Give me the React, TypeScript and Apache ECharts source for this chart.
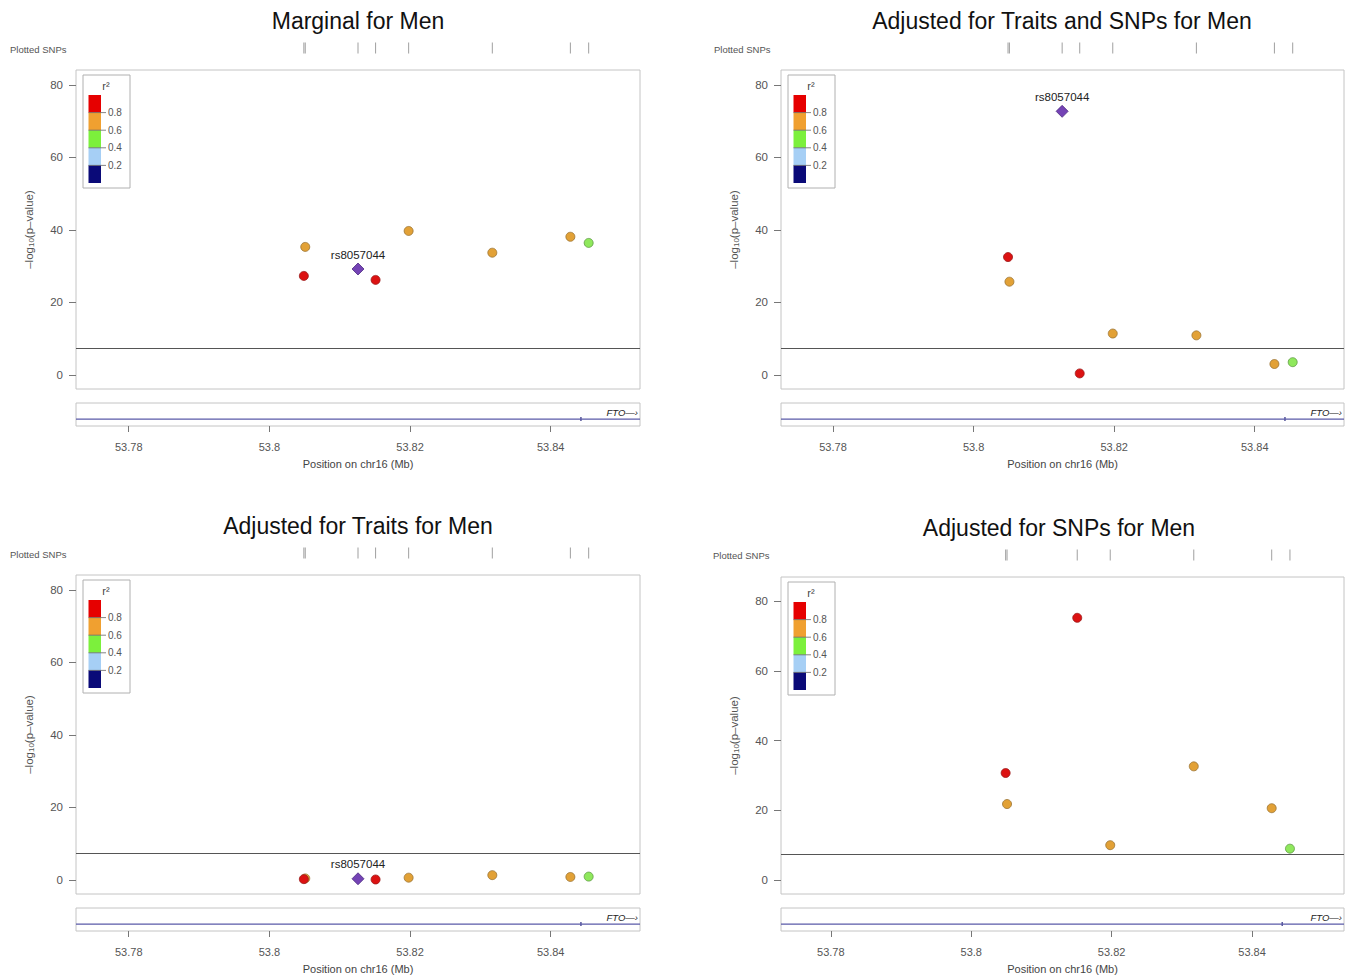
import React, { useEffect, useRef } from "react";
import * as echarts from "echarts";

// ---------- data ----------
const snpPositions = [53.8049, 53.8051, 53.8126, 53.8151, 53.8198, 53.8317, 53.8428, 53.8454];
const snpLdClass = ["r08", "r06", "index", "r08", "r06", "r06", "r06", "r04"];
const marginalMen = [27.3, 35.3, 29.2, 26.2, 39.7, 33.7, 38.1, 36.4];
const adjTraitsSnpsMen = [32.5, 25.7, 72.7, 0.4, 11.4, 10.9, 3.0, 3.5];
const adjTraitsMen = [0.2, 0.4, 0.3, 0.1, 0.6, 1.3, 0.8, 0.9];
const adjSnpsMen: (number | null)[] = [30.7, 21.8, null, 75.2, 10.0, 32.6, 20.6, 9.0];
const panelTitles = [
  "Marginal for Men",
  "Adjusted for Traits and SNPs for Men",
  "Adjusted for Traits for Men",
  "Adjusted for SNPs for Men",
];
const xTickValues = [53.78, 53.8, 53.82, 53.84];
const yTickValues = [0, 20, 40, 60, 80];
const genomeWideThreshold = 7.3;
const legendBreakLabels = ["0.8", "0.6", "0.4", "0.2"];
const indexSnpName = "rs8057044";
const geneName = "FTO";
const geneSpan = [53.7376, 54.1558];
const geneMarks = [53.8443];

// ---------- style ----------
const FONT = "'Liberation Sans', Arial, Helvetica, sans-serif";
const ldFill: Record<string, string> = { r08: "#dc1212", r06: "#e2a136", r04: "#8fe85c", index: "#7443b5" };
const ldStroke: Record<string, string> = { r08: "#9a1a1a", r06: "#9a7434", r04: "#5e9a44", index: "#4c2a80" };
const legendColors = ["#e60000", "#f0a030", "#7cf03c", "#a6cff5", "#0a0a78"];

const panels = [
  { values: marginalMen, left: 76, top: 70, width: 564, height: 319, yMin: -3.9, yMax: 84.1, xMin: 53.7725, xMax: 53.8527, rugTop: 42, geneTop: 403, titleX: 358, titleY: 21, snpLabelX: 10, snpLabelY: 49 },
  { values: adjTraitsSnpsMen, left: 781, top: 70, width: 563, height: 319, yMin: -3.9, yMax: 84.1, xMin: 53.7726, xMax: 53.8527, rugTop: 42, geneTop: 403, titleX: 1062, titleY: 21, snpLabelX: 714, snpLabelY: 49 },
  { values: adjTraitsMen, left: 76, top: 575, width: 564, height: 319, yMin: -3.9, yMax: 84.1, xMin: 53.7725, xMax: 53.8527, rugTop: 547, geneTop: 908, titleX: 358, titleY: 526, snpLabelX: 10, snpLabelY: 554 },
  { values: adjSnpsMen, left: 781, top: 577, width: 563, height: 317, yMin: -4.0, yMax: 86.9, xMin: 53.7729, xMax: 53.8531, rugTop: 549, geneTop: 908, titleX: 1059, titleY: 528, snpLabelX: 713, snpLabelY: 555 },
];

function buildOption() {
  const grid: any[] = [];
  const xAxis: any[] = [];
  const yAxis: any[] = [];
  const series: any[] = [];
  const graphic: any[] = [];

  panels.forEach((p, pi) => {
    // ---- main scatter grid ----
    const mi = grid.length;
    grid.push({ left: p.left, top: p.top, width: p.width, height: p.height, show: true, borderColor: "#c4c4c4", borderWidth: 1, backgroundColor: "#fff" });
    xAxis.push({ type: "value", gridIndex: mi, min: p.xMin, max: p.xMax, show: false });
    yAxis.push({
      type: "value", gridIndex: mi, min: p.yMin, max: p.yMax,
      splitLine: { show: false },
      axisLine: { show: false },
      axisTick: { show: true, length: 7, customValues: yTickValues, lineStyle: { color: "#777" } },
      axisLabel: { customValues: yTickValues, margin: 13, color: "#555", fontSize: 11.5, fontFamily: FONT },
      name: "{a|–log}{b|10}{a|(p–value)}",
      nameLocation: "middle",
      nameGap: 41,
      nameTextStyle: {
        color: "#555", fontSize: 11.5, fontFamily: FONT,
        rich: {
          a: { fontSize: 11.5, color: "#555", fontFamily: FONT },
          b: { fontSize: 8, color: "#555", fontFamily: FONT, padding: [5, 0, 0, 0] },
        },
      },
    });

    const order = ["r06", "r04", "r08", "index"];
    order.forEach((cls, ci) => {
      const data: any[] = [];
      snpPositions.forEach((x, k) => {
        const v = p.values[k];
        if (snpLdClass[k] === cls && v !== null && v !== undefined) data.push([x, v]);
      });
      const s: any = {
        type: "scatter", xAxisIndex: mi, yAxisIndex: mi, data,
        symbol: cls === "index" ? "diamond" : "circle",
        symbolSize: cls === "index" ? 12 : 9,
        itemStyle: { color: ldFill[cls], borderColor: ldStroke[cls], borderWidth: 0.8, opacity: 1 },
        z: 3 + ci,
        silent: true,
      };
      if (cls === "index") {
        s.label = { show: true, position: "top", distance: 2, formatter: indexSnpName, color: "#222", fontSize: 11.5, fontFamily: FONT };
      }
      if (ci === 0) {
        s.markLine = {
          silent: true, symbol: "none", label: { show: false },
          lineStyle: { color: "#555", width: 1, type: "solid" },
          data: [{ yAxis: genomeWideThreshold }],
        };
      }
      series.push(s);
    });

    // ---- rug grid (plotted SNPs) ----
    const ri = grid.length;
    grid.push({ left: p.left, top: p.rugTop, width: p.width, height: 12 });
    xAxis.push({ type: "value", gridIndex: ri, min: p.xMin, max: p.xMax, show: false });
    yAxis.push({ type: "value", gridIndex: ri, min: 0, max: 1, show: false });
    const rugData: any[] = [];
    snpPositions.forEach((x, k) => {
      const v = p.values[k];
      if (v !== null && v !== undefined) rugData.push([x, 0.5]);
    });
    series.push({
      type: "scatter", xAxisIndex: ri, yAxisIndex: ri, data: rugData,
      symbol: "rect", symbolSize: [1, 11], itemStyle: { color: "#888" }, silent: true,
    });

    // ---- gene track grid ----
    const gi = grid.length;
    grid.push({ left: p.left, top: p.geneTop, width: p.width, height: 23, show: true, borderColor: "#c4c4c4", borderWidth: 1, backgroundColor: "#fff" });
    xAxis.push({
      type: "value", gridIndex: gi, min: p.xMin, max: p.xMax, position: "bottom",
      splitLine: { show: false },
      axisLine: { show: false },
      axisTick: { show: true, length: 6, customValues: xTickValues, lineStyle: { color: "#777" } },
      axisLabel: { customValues: xTickValues, margin: 15, color: "#555", fontSize: 11, fontFamily: FONT },
      name: "Position on chr16 (Mb)",
      nameLocation: "middle",
      nameGap: 32,
      nameTextStyle: { color: "#444", fontSize: 11, fontFamily: FONT },
    });
    yAxis.push({ type: "value", gridIndex: gi, min: 0, max: 1, show: false });
    series.push({
      type: "line", xAxisIndex: gi, yAxisIndex: gi, clip: true,
      data: [[Math.max(geneSpan[0], p.xMin), 0.3], [Math.min(geneSpan[1], p.xMax), 0.3]],
      symbol: "none", lineStyle: { color: "#5a5aa8", width: 1.3 }, silent: true,
    });
    series.push({
      type: "scatter", xAxisIndex: gi, yAxisIndex: gi,
      data: geneMarks.map((x) => [x, 0.3]),
      symbol: "rect", symbolSize: [1.5, 4], itemStyle: { color: "#2a2a80" }, silent: true,
    });

    // ---- texts & legend ----
    graphic.push({
      type: "text", x: p.titleX, y: p.titleY,
      style: { text: panelTitles[pi], fontSize: 23, fontFamily: FONT, fill: "#111", align: "center", verticalAlign: "middle" },
    });
    graphic.push({
      type: "text", x: p.snpLabelX, y: p.snpLabelY,
      style: { text: "Plotted SNPs", fontSize: 9.5, fontFamily: FONT, fill: "#555", align: "left", verticalAlign: "middle" },
    });
    graphic.push({
      type: "text", x: p.left + p.width - 2, y: p.geneTop + 9,
      style: { text: geneName + "—›", fontSize: 9.5, fontStyle: "italic", fontFamily: FONT, fill: "#222", align: "right", verticalAlign: "middle" },
      z: 10,
    });

    const children: any[] = [
      { type: "rect", shape: { x: 0, y: 0, width: 47, height: 113 }, style: { fill: "#fff", stroke: "#b0b0b0", lineWidth: 1 } },
      { type: "text", x: 23, y: 11, style: { text: "r²", fontSize: 11, fontFamily: FONT, fill: "#444", align: "center", verticalAlign: "middle" } },
    ];
    const bh = 17.6;
    legendColors.forEach((c, k) => {
      children.push({ type: "rect", shape: { x: 5.5, y: 20 + k * bh, width: 12.5, height: bh }, style: { fill: c } });
    });
    legendBreakLabels.forEach((lab, k) => {
      const yy = 20 + (k + 1) * bh;
      children.push({ type: "line", shape: { x1: 5.5, y1: yy, x2: 23, y2: yy }, style: { stroke: "#666", lineWidth: 0.8 } });
      children.push({ type: "text", x: 25, y: yy, style: { text: lab, fontSize: 10, fontFamily: FONT, fill: "#555", align: "left", verticalAlign: "middle" } });
    });
    graphic.push({ type: "group", x: p.left + 7, y: p.top + 5, children, z: 20 });
  });

  return { animation: false, backgroundColor: "#fff", grid, xAxis, yAxis, series, graphic };
}

export default function App() {
  const ref = useRef<HTMLDivElement>(null);
  useEffect(() => {
    if (!ref.current) return;
    const chart = echarts.init(ref.current, null, { renderer: "svg" });
    chart.setOption(buildOption() as any);
    return () => chart.dispose();
  }, []);
  return (
    <div
      ref={ref}
      style={{ position: "fixed", left: 0, top: 0, width: 1352, height: 980, background: "#fff" }}
    />
  );
}
